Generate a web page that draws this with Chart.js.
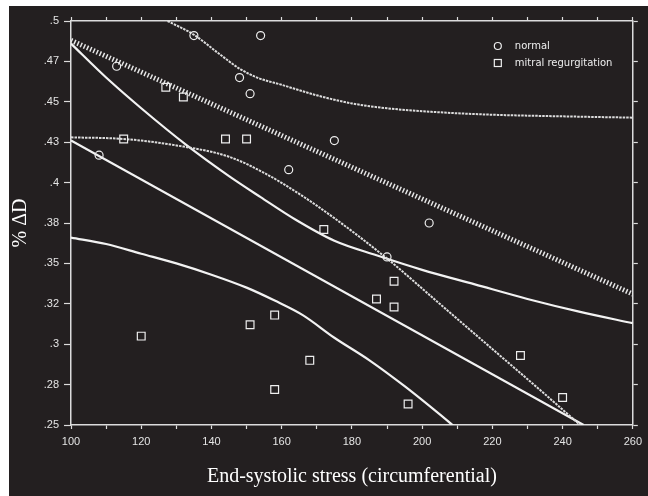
<!DOCTYPE html>
<html lang="en">
<head>
  <meta charset="UTF-8" />
  <title>%ΔD vs end-systolic stress</title>
  <script src="https://cdn.jsdelivr.net/npm/chart.js"></script>
  <style>
    html, body { margin: 0; padding: 0; background: #fff; }
    #wrap { width: 648px; height: 496px; }
  </style>
</head>
<body>
  <div id="wrap"><canvas id="chart" width="648" height="496"></canvas></div>

  <script>
    // scatter points
    const normalX = [108, 113, 135, 148, 151, 154, 162, 175, 190, 202];
    const normalY = [0.417, 0.472, 0.491, 0.465, 0.455, 0.491, 0.408, 0.426, 0.354, 0.375];

    const mrX = [115, 120, 127, 132, 144, 150, 151, 158, 158, 168, 172, 187, 192, 192, 196, 228, 240];
    const mrY = [0.427, 0.305, 0.459, 0.453, 0.427, 0.427, 0.312, 0.318, 0.272, 0.290, 0.371, 0.328, 0.339, 0.323, 0.263, 0.293, 0.267];

    // normal: regression (hatched) and confidence band (dotted)
    const normFitX = [100, 260];
    const normFitY = [0.488, 0.331];
    const normUpX = [127.5, 135, 142, 148, 153, 160, 170, 180, 190, 205, 220, 240, 260];
    const normUpY = [0.5, 0.4915, 0.480, 0.4705, 0.465, 0.4605, 0.454, 0.449, 0.446, 0.4435, 0.442, 0.441, 0.4402];
    const normLoX = [100, 115, 130, 145, 155, 165, 175, 190, 205, 220, 235, 245];
    const normLoY = [0.428, 0.427, 0.423, 0.416, 0.406, 0.393, 0.378, 0.353, 0.325, 0.297, 0.269, 0.25];

    // mitral regurgitation: regression and band (solid)
    const mrFitX = [100, 246];
    const mrFitY = [0.426, 0.25];
    const mrUpX = [100, 110, 120, 133, 145, 154, 164, 175, 187, 200, 215, 230, 245, 260];
    const mrUpY = [0.486, 0.465, 0.446, 0.423, 0.404, 0.391, 0.377, 0.364, 0.355, 0.346, 0.337, 0.328, 0.320, 0.313];
    const mrLoX = [100, 110, 120, 130, 140, 150, 158, 166, 175, 185, 195, 207, 210];
    const mrLoY = [0.366, 0.362, 0.356, 0.350, 0.343, 0.335, 0.327, 0.318, 0.304, 0.290, 0.274, 0.253, 0.2475];

    const yTickLabels = [".25", ".28", ".3", ".32", ".35", ".38", ".4", ".43", ".45", ".47", ".5"];
    const legendLabels = ["normal", "mitral regurgitation"];

    const INK = "#231f20";
    const pts = (xs, ys) => xs.map((x, i) => ({ x: x, y: ys[i] }));

    function lineSet(xs, ys, style) {
      return Object.assign({
        data: pts(xs, ys),
        showLine: true,
        pointRadius: 0,
        fill: false,
        borderColor: "#f2f2f2",
        borderWidth: 2.2,
        cubicInterpolationMode: "monotone"
      }, style);
    }

    const dotted = { borderColor: "#dcdcdc", borderWidth: 2, borderDash: [2.5, 1] };

    // white frame at the top and left edge, dark plate behind the chart
    const plate = {
      id: "plate",
      beforeDraw(chart) {
        const c = chart.ctx;
        c.save();
        c.fillStyle = "#fff";
        c.fillRect(0, 0, chart.width, chart.height);
        c.fillStyle = INK;
        c.fillRect(9, 6, chart.width - 9, chart.height - 6);
        c.restore();
      }
    };

    // small legend in the top right corner of the plot
    const cornerLegend = {
      id: "cornerLegend",
      afterDatasetsDraw(chart) {
        const c = chart.ctx;
        const a = chart.chartArea;
        const mx = a.right - 135;
        c.save();
        c.strokeStyle = "#eee";
        c.lineWidth = 1.2;
        c.beginPath();
        c.arc(mx, a.top + 25, 3.5, 0, Math.PI * 2);
        c.stroke();
        c.strokeRect(mx - 3.5, a.top + 42 - 3.5, 7, 7);
        c.fillStyle = "#eee";
        c.font = "10px 'DejaVu Sans'";
        c.textBaseline = "middle";
        c.fillText(legendLabels[0], mx + 17, a.top + 25);
        c.fillText(legendLabels[1], mx + 17, a.top + 42);
        c.restore();
      }
    };

    const tickFont = { family: "'Liberation Sans', Arial, sans-serif", size: 11 };
    const titleFont = { family: "'Liberation Serif', 'Times New Roman', serif", size: 20 };
    const axisLine = { color: "#dcdcdc", width: 1.5 };

    new Chart(document.getElementById("chart"), {
      type: "scatter",
      data: {
        datasets: [
          {
            label: legendLabels[0],
            data: pts(normalX, normalY),
            pointStyle: "circle",
            pointRadius: 4,
            borderColor: "#eee",
            borderWidth: 1.2,
            backgroundColor: "rgba(0,0,0,0)"
          },
          {
            label: legendLabels[1],
            data: pts(mrX, mrY),
            pointStyle: "rect",
            pointRadius: 5.5,
            borderColor: "#eee",
            borderWidth: 1.2,
            backgroundColor: "rgba(0,0,0,0)"
          },
          lineSet(normFitX, normFitY, { borderColor: "#e6e6e6", borderWidth: 5, borderDash: [1.5, 2], borderCapStyle: "butt" }),
          lineSet(normUpX, normUpY, dotted),
          lineSet(normLoX, normLoY, dotted),
          lineSet(mrFitX, mrFitY, {}),
          lineSet(mrUpX, mrUpY, {}),
          lineSet(mrLoX, mrLoY, {})
        ]
      },
      options: {
        responsive: false,
        animation: false,
        layout: { padding: { left: 0, top: 16, right: 3, bottom: 0 } },
        plugins: {
          legend: { display: false },
          tooltip: { enabled: false }
        },
        scales: {
          x: {
            type: "linear",
            position: "bottom",
            min: 100,
            max: 260,
            border: axisLine,
            grid: { drawOnChartArea: false, tickLength: 4, tickColor: "#dcdcdc", tickWidth: 1.2 },
            ticks: {
              stepSize: 10,
              autoSkip: false,
              maxRotation: 0,
              padding: 6,
              color: "#e4e4e4",
              font: tickFont,
              callback: v => (v % 20 === 0 ? String(v) : "")
            },
            title: {
              display: true,
              text: "End-systolic stress (circumferential)",
              color: "#fff",
              font: titleFont,
              padding: { top: 0, bottom: 7 }
            },
            afterFit: s => { s.height = 71; }
          },
          x2: {
            type: "linear",
            position: "top",
            min: 100,
            max: 260,
            border: axisLine,
            grid: { drawOnChartArea: false, tickLength: 4, tickColor: "#dcdcdc", tickWidth: 1.2 },
            ticks: { display: false, stepSize: 10, autoSkip: false },
            afterFit: s => { s.height = 5; }
          },
          y: {
            type: "linear",
            position: "left",
            min: 0.25,
            max: 0.5,
            border: axisLine,
            grid: { drawOnChartArea: false, tickLength: 7, tickColor: "#dcdcdc", tickWidth: 1.2 },
            ticks: {
              stepSize: 0.025,
              autoSkip: false,
              padding: 5,
              color: "#e4e4e4",
              font: tickFont,
              callback: v => yTickLabels[Math.round((v - 0.25) / 0.025)]
            },
            title: {
              display: true,
              text: "% ΔD",
              color: "#fff",
              font: titleFont,
              padding: { top: 9, bottom: 0 }
            },
            afterFit: s => { s.width = 71; }
          },
          y2: {
            type: "linear",
            position: "right",
            min: 0.25,
            max: 0.5,
            border: axisLine,
            grid: { drawOnChartArea: false, tickLength: 5, tickColor: "#dcdcdc", tickWidth: 1.2 },
            ticks: { display: false, stepSize: 0.025, autoSkip: false },
            afterFit: s => { s.width = 5; }
          }
        }
      },
      plugins: [plate, cornerLegend]
    });
  </script>
</body>
</html>
